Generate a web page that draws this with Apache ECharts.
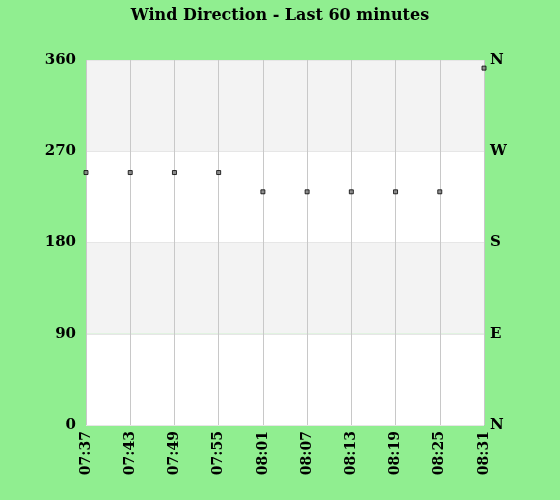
<!DOCTYPE html><html><head><meta charset="utf-8">
<script src="https://cdn.jsdelivr.net/npm/echarts@6/dist/echarts.min.js"></script>
<style>html,body{margin:0;padding:0;background:#90ee90}#c{width:560px;height:500px}</style></head><body><div id="c"></div>
<script>
const times=['07:37','07:43','07:49','07:55','08:01','08:07','08:13','08:19','08:25','08:31'];
const direction=[249,249,249,249,230,230,230,230,230,352];
const leftTicks=[0,90,180,270,360];
const rightTicks=['N','E','S','W','N'];
const font='DejaVu Serif';
const c=echarts.init(document.getElementById('c'));
c.setOption({
 backgroundColor:'#90ee90',
 title:{text:'Wind Direction - Last 60 minutes',left:'center',top:3,textStyle:{fontFamily:font,fontWeight:'bold',fontSize:16,color:'#000'}},
 grid:{left:86,right:76,top:60,bottom:75},
 xAxis:{type:'category',data:times,boundaryGap:false,
  axisLine:{show:false},axisTick:{show:false},
  splitLine:{show:true,lineStyle:{color:'#c8c8c8'}},
  axisLabel:{rotate:90,fontFamily:font,fontWeight:'bold',fontSize:14,color:'#000',margin:6}},
 yAxis:[{type:'value',min:0,max:360,interval:90,
  axisLabel:{fontFamily:font,fontWeight:'bold',fontSize:15,color:'#000',margin:10},
  axisLine:{show:false},axisTick:{show:false},
  splitLine:{show:true,lineStyle:{color:'#e6e6e6'}},
  splitArea:{show:true,areaStyle:{color:['#ffffff','#f3f3f3']}}},
  {type:'value',min:0,max:360,interval:90,position:'right',
  axisLabel:{fontFamily:font,fontWeight:'bold',fontSize:15,color:'#000',margin:6,formatter:v=>rightTicks[v/90]},
  axisLine:{show:false},axisTick:{show:false},splitLine:{show:false}}],
 series:[{type:'scatter',data:direction,symbol:'rect',symbolSize:4,
  itemStyle:{color:'#777',borderColor:'#000',borderWidth:1},clip:false}]
});
</script></body></html>
